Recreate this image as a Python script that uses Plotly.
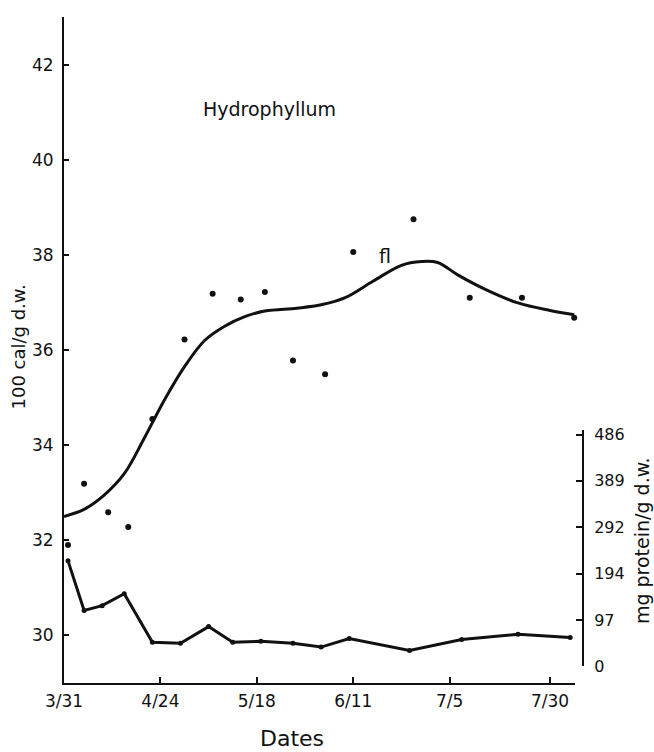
import plotly.graph_objects as go

# ---- data (days after 3/31) ----
tick_days = [0, 24, 48, 72, 96, 121]
tick_labels = ["3/31", "4/24", "5/18", "6/11", "7/5", "7/30"]

cal_days = [1, 5, 11, 16, 22, 30, 37, 44, 50, 57, 65, 72, 87, 101, 114, 127]
cal_values = [31.9, 33.19, 32.59, 32.28, 34.55, 36.22, 37.18, 37.06, 37.22,
              35.78, 35.49, 38.06, 38.75, 37.10, 37.10, 36.68]

fit_days = [0, 5, 10, 15, 20, 25, 30, 35, 40, 45, 50, 58, 64, 70, 77, 84, 89, 93,
            98, 105, 113, 121, 127]
fit_values = [32.5, 32.65, 32.95, 33.4, 34.15, 34.95, 35.65, 36.2, 36.5, 36.7, 36.82,
              36.88, 36.95, 37.1, 37.45, 37.78, 37.86, 37.84, 37.58, 37.27, 36.99,
              36.83, 36.74]

prot_days = [1, 5, 9.5, 15, 22, 29, 36, 42, 49, 57, 64, 71, 86, 99, 113, 126]
prot_values = [221, 117, 127, 152, 50, 48, 83, 50, 52, 48, 40, 58, 33, 56, 67, 60]

prot_ticks = [0, 97, 194, 292, 389, 486]

# ---- layout geometry (pixels) ----
W, H = 654, 752
L, R, T, B = 64, 590, 12, 683
PW, PH = R - L, B - T


def px(x):
    return (x - L) / PW


def py(y):
    return (B - y) / PH


FONT = "DejaVu Sans"
BLACK = "#111111"

fig = go.Figure()

fig.add_trace(go.Scatter(x=fit_days, y=fit_values, mode="lines",
                         line=dict(color=BLACK, width=3, shape="spline", smoothing=1.0),
                         showlegend=False, hoverinfo="skip", cliponaxis=False))
fig.add_trace(go.Scatter(x=cal_days, y=cal_values, mode="markers",
                         marker=dict(color=BLACK, size=6), showlegend=False,
                         cliponaxis=False))
fig.add_trace(go.Scatter(x=prot_days, y=prot_values, mode="lines+markers",
                         line=dict(color=BLACK, width=3),
                         marker=dict(color=BLACK, size=5),
                         yaxis="y2", showlegend=False, cliponaxis=False))

fig.update_layout(
    width=W, height=H,
    margin=dict(l=L, r=W - R, t=T, b=H - B, pad=0),
    paper_bgcolor="white", plot_bgcolor="rgba(0,0,0,0)",
    font=dict(family=FONT, color=BLACK, size=17),
    xaxis=dict(domain=[0, px(575)], range=[0, 127.2],
               tickmode="array", tickvals=tick_days, ticktext=tick_labels,
               showline=True, linewidth=2, linecolor=BLACK,
               ticks="inside", ticklen=6, tickwidth=2, tickcolor=BLACK,
               showgrid=False, zeroline=False, tickfont=dict(size=17),
               ticklabelstandoff=2),
    yaxis=dict(range=[29.0, 43.0], tickmode="array", tickvals=[30, 32, 34, 36, 38, 40, 42],
               showline=True, linewidth=2, linecolor=BLACK,
               ticks="inside", ticklen=5, tickwidth=2, tickcolor=BLACK,
               showgrid=False, zeroline=False, tickfont=dict(size=17),
               ticklabelstandoff=5),
    yaxis2=dict(domain=[py(666), py(428)], range=[0, 496], anchor="free",
                position=px(583), side="right",
                tickmode="array", tickvals=prot_ticks,
                showline=True, linewidth=2, linecolor=BLACK,
                ticks="inside", ticklen=6, tickwidth=2, tickcolor=BLACK,
                showgrid=False, zeroline=False, tickfont=dict(size=16),
                ticklabelstandoff=7),
)

annotations = [
    dict(text="Hydrophyllum", x=px(269), y=py(105), size=19, angle=0),
    dict(text="fl", x=px(385), y=py(253), size=19, angle=0),
    dict(text="Dates", x=px(292), y=py(739), size=22, angle=0),
    dict(text="100 cal/g d.w.", x=px(19), y=py(345), size=18, angle=-90),
    dict(text="mg protein/g d.w.", x=px(642), y=py(540), size=19, angle=-90),
]
for a in annotations:
    fig.add_annotation(text=a["text"], x=a["x"], y=a["y"], xref="paper", yref="paper",
                       showarrow=False, textangle=a["angle"],
                       font=dict(family=FONT, size=a["size"], color=BLACK),
                       xanchor="center", yanchor="middle")

fig.write_html("out.html")
